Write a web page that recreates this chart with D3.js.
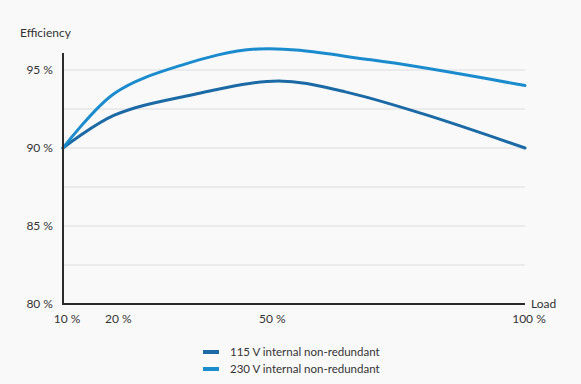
<!DOCTYPE html>
<html>
<head>
<meta charset="utf-8">
<script src="https://cdn.jsdelivr.net/npm/d3@7"></script>
<style>
  body { margin: 0; background: #f9f9f9; }
  svg { display: block; font-family: Lato, "Open Sans", sans-serif; }
  text { fill: #333; }
</style>
</head>
<body>
<svg id="viz" width="581" height="384"></svg>
<script>
// load (%) and efficiency (%)
var load115 = [10, 20, 35, 52, 65, 80, 100];
var eff115  = [90, 92.1, 93.4, 94.3, 93.6, 92.2, 90];
var load230 = [10, 20, 33, 48, 70, 100];
var eff230  = [90, 93.5, 95.3, 96.35, 95.65, 94.0];
var xTicks = [10, 20, 50, 100];
var yTicks = [80, 85, 90, 95];
var gridLines = [82.5, 85, 87.5, 90, 92.5, 95];
var seriesNames = ["115 V internal non-redundant", "230 V internal non-redundant"];
var seriesColors = ["#1b6aa5", "#1a8bcc"];

var svg = d3.select("#viz");
var x = d3.scaleLinear().domain([10, 100]).range([63, 525]);
var y = d3.scaleLinear().domain([80, 95]).range([304, 70]);

// grid
svg.append("g").selectAll("line")
  .data(gridLines).enter().append("line")
  .attr("x1", 63).attr("x2", 525)
  .attr("y1", function (d) { return y(d); })
  .attr("y2", function (d) { return y(d); })
  .attr("stroke", "#dcdcdc").attr("stroke-width", 1);

// y tick labels
svg.append("g").selectAll("text")
  .data(yTicks).enter().append("text")
  .attr("x", 53).attr("y", function (d) { return y(d); })
  .attr("dy", "0.35em").attr("text-anchor", "end")
  .style("font-size", "12px")
  .text(function (d) { return d + " %"; });

// x tick labels
svg.append("g").selectAll("text")
  .data(xTicks).enter().append("text")
  .attr("x", function (d) { return x(d) + 4; }).attr("y", 323)
  .attr("text-anchor", "middle")
  .style("font-size", "12px")
  .text(function (d) { return d + " %"; });

svg.append("text").attr("x", 20).attr("y", 37)
  .style("font-size", "12px").text("Efficiency");
svg.append("text").attr("x", 531).attr("y", 308)
  .style("font-size", "12px").text("Load");

// lines
var line = d3.line()
  .x(function (d) { return x(d[0]); })
  .y(function (d) { return y(d[1]); })
  .curve(d3.curveCatmullRom.alpha(0.5));

var series = [d3.zip(load115, eff115), d3.zip(load230, eff230)];
svg.append("g").selectAll("path")
  .data(series).enter().append("path")
  .attr("d", line)
  .attr("fill", "none")
  .attr("stroke", function (d, i) { return seriesColors[i]; })
  .attr("stroke-width", 3)
  .attr("stroke-linecap", "round");

// axes
svg.append("line").attr("x1", 63).attr("x2", 63).attr("y1", 53).attr("y2", 305)
  .attr("stroke", "#2b2b2b").attr("stroke-width", 2);
svg.append("line").attr("x1", 62).attr("x2", 525).attr("y1", y(80)).attr("y2", y(80))
  .attr("stroke", "#2b2b2b").attr("stroke-width", 2);

// legend
var leg = svg.append("g").selectAll("g")
  .data(seriesNames).enter().append("g")
  .attr("transform", function (d, i) { return "translate(203," + (352 + i * 17) + ")"; });
leg.append("rect").attr("x", 0).attr("y", -2).attr("width", 16).attr("height", 4)
  .attr("fill", function (d, i) { return seriesColors[i]; });
leg.append("text").attr("x", 27).attr("dy", "0.35em")
  .style("font-size", "11.5px").text(function (d) { return d; });
</script>
</body>
</html>
